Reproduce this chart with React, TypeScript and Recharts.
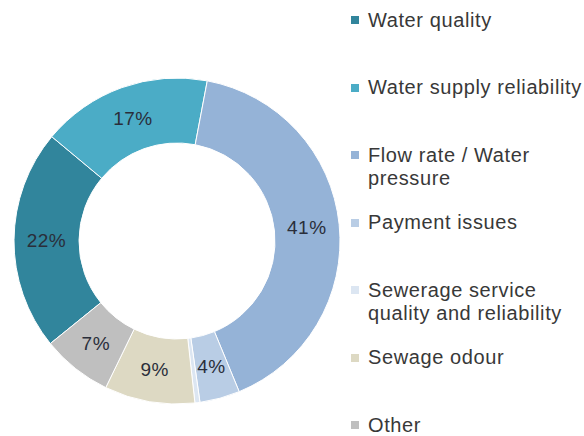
import React from 'react';
import { PieChart, Pie, Cell, Legend } from 'recharts';

const categories = [
  'Water quality',
  'Water supply reliability',
  'Flow rate / Water pressure',
  'Payment issues',
  'Sewerage service quality and reliability',
  'Sewage odour',
  'Other',
];
const shares = [22, 17, 41, 4, 0.5, 9, 7];
const palette = ['#31859c', '#4bacc6', '#95b3d7', '#b9cde5', '#dce6f2', '#ddd9c3', '#bfbfbf'];

const data = categories.map((name, i) => ({ name, value: shares[i] }));

const FONT = '"Liberation Sans", Arial, sans-serif';
const RAD = Math.PI / 180;

const renderLabel = (props: any) => {
  const { cx, cy, midAngle, innerRadius, outerRadius, value } = props;
  if (value < 1) return null;
  const r = (innerRadius + outerRadius) / 2;
  const x = cx + r * Math.cos(-midAngle * RAD);
  const y = cy + r * Math.sin(-midAngle * RAD);
  return (
    <text
      x={x}
      y={y}
      textAnchor="middle"
      dominantBaseline="central"
      fontFamily={FONT}
      fontSize={19}
      letterSpacing={0.5}
      fill="#2a2e3a"
    >
      {`${Math.round(value)}%`}
    </text>
  );
};

const LegendContent = (props: any) => {
  const payload = [...(props.payload || [])].sort(
    (a: any, b: any) => categories.indexOf(a.value) - categories.indexOf(b.value)
  );
  return (
    <div
      style={{
        position: 'relative',
        width: 233,
        height: 420,
        fontFamily: FONT,
        fontSize: 20,
        color: '#383838',
        letterSpacing: 0.6,
      }}
    >
      {payload.map((p: any, i: number) => {
        const idx = categories.indexOf(p.value);
        return (
          <div
            key={p.value}
            style={{
              position: 'absolute',
              left: 0,
              top: 8.5 + i * 67.5,
              display: 'flex',
              alignItems: 'flex-start',
              lineHeight: '23px',
            }}
          >
            <span
              style={{
                width: 8,
                height: 8,
                background: palette[idx >= 0 ? idx : i],
                marginTop: 7.5,
                marginRight: 9,
                flex: 'none',
              }}
            />
            <span style={{ width: 218 }}>{p.value}</span>
          </div>
        );
      })}
    </div>
  );
};

export default function App() {
  return (
    <div style={{ position: 'absolute', left: 0, top: 0, width: 584, height: 436, overflow: 'hidden', background: '#fff' }}>
      <PieChart width={584} height={436}>
        <Pie
          data={data}
          dataKey="value"
          nameKey="name"
          cx={172}
          cy={236}
          innerRadius={98}
          outerRadius={163}
          startAngle={-141}
          endAngle={-501}
          stroke="#ffffff"
          strokeWidth={1}
          label={renderLabel}
          labelLine={false}
          isAnimationActive={false}
        >
          {data.map((d, i) => (
            <Cell key={d.name} fill={palette[i]} />
          ))}
        </Pie>
        <Legend
          layout="vertical"
          verticalAlign="top"
          align="right"
          content={LegendContent}
          wrapperStyle={{ left: 351, top: 0, width: 233 }}
        />
      </PieChart>
    </div>
  );
}
